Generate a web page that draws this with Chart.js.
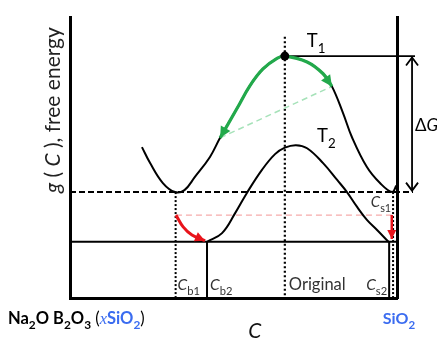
<!DOCTYPE html>
<html><head><meta charset="utf-8">
<script src="https://cdn.jsdelivr.net/npm/chart.js@4/dist/chart.umd.min.js"></script>
<style>html,body{margin:0;padding:0;background:#fff}#wrap{width:437px;height:339px;position:relative}</style>
</head><body><div id="wrap"><canvas id="c"></canvas></div>
<script>
// Composition C (0 = Na2O·B2O3 end, 100 = SiO2 end) and free energy g (arbitrary units)
const t1C = [22, 24.5, 28.4, 32.1, 35, 38.2, 42.8, 45.9, 51.1, 55, 59, 63.3, 65.7, 72.5, 77.4, 80.1, 83.5, 86.2, 90.8, 94.8, 98.5, 99.8];
const t1G = [53.7, 48, 40.9, 37.7, 38.4, 43.1, 50.2, 57, 67.5, 75.5, 81.5, 85.3, 86.1, 84, 79.8, 75.3, 65.8, 57.3, 46.6, 40.9, 37.7, 40];
const t2C = [41.9, 46.5, 50.5, 54.1, 58.7, 62.7, 65.7, 69.1, 72.5, 77.4, 81.7, 84.7, 87.8, 90.8, 93.9, 97.4];
const t2G = [20, 23.1, 30.2, 37.4, 45.6, 51.2, 53.5, 54.4, 53.3, 48, 42, 37.7, 32.4, 27.8, 24.2, 20];
// compositions marked on the C axis
const markNames = ['Cb1', 'Cb2', 'Original', 'Cs2', 'Cs1'];
const markC = [32.3, 41.9, 65.7, 97.6, 98.8];
// free-energy levels: common tangent at T1, common tangent at T2, T1 maximum, intermediate (red dashed)
const levelNames = ['tangentT1', 'tangentT2', 'peakT1', 'intermediate'];
const levelG = [37.7, 20, 86.1, 29.5];
// green arrow segment along T1 (indices into t1C/t1G)
const greenFrom = 7, greenTo = 15;
// red curved arrow (Cb1 -> Cb2) and red drop (Cs1 -> Cs2)
const redC = [32.4, 34.6, 37.3, 41.3];
const redG = [29.5, 25.3, 22.4, 20.4];
const dropC = 98.4;
const dropG = [29.5, 21];
// ΔG dimension arrow and extent of the reference lines beyond the SiO2 edge
const deltaC = 104.6;
const deltaG = [85.6, 38.2];
const lineEndC = [104.9, 105.5]; // dashed level end, T1 peak line end
const originalTopG = 93;

const pts = (cs, gs) => cs.map((c, i) => ({x: c, y: gs[i]}));
const seg = (x1, y1, x2, y2) => [{x: x1, y: y1}, {x: x2, y: y2}];
const peakIdx = t1G.indexOf(Math.max(...t1G));

const base = {type: 'line', pointRadius: 0, fill: false, clip: false, tension: 0};
const curve = {tension: 0.4, cubicInterpolationMode: 'default'};
const datasets = [
  {...base, label: 'peak', data: [{x: t1C[peakIdx], y: t1G[peakIdx]}], showLine: false, pointRadius: 4.5, pointBackgroundColor: '#000', pointBorderWidth: 0},
  {...base, ...curve, label: 'greenArrow', data: pts(t1C.slice(greenFrom, greenTo + 1), t1G.slice(greenFrom, greenTo + 1)), borderColor: '#22a94b', borderWidth: 3.2,
    arrows: [{at: 'start', kind: 'fill', len: 11, half: 5.5}, {at: 'end', kind: 'fill', len: 11, half: 5.5}]},
  {...base, ...curve, label: 'redArrow', data: pts(redC, redG), borderColor: '#e8141b', borderWidth: 3,
    arrows: [{at: 'end', kind: 'fill', len: 10, half: 5}]},
  {...base, label: 'redDrop', data: seg(dropC, dropG[0], dropC, dropG[1]), borderColor: '#e8141b', borderWidth: 2.5,
    arrows: [{at: 'end', kind: 'fill', len: 9, half: 4.5}]},
  {...base, ...curve, label: 'T1', data: pts(t1C, t1G), borderColor: '#000', borderWidth: 2},
  {...base, ...curve, label: 'T2', data: pts(t2C, t2G), borderColor: '#000', borderWidth: 2},
  {...base, label: 'greenDashed', data: seg(t1C[greenFrom], t1G[greenFrom], t1C[greenTo], t1G[greenTo]), borderColor: '#a6e2b9', borderWidth: 1.5, borderDash: [6, 4]},
  {...base, label: 'redDashed', data: seg(redC[0], levelG[3], dropC, levelG[3]), borderColor: '#f6abab', borderWidth: 1.3, borderDash: [6, 4]},
  {...base, label: 'deltaG', data: seg(deltaC, deltaG[0], deltaC, deltaG[1]), borderColor: '#000', borderWidth: 1.8,
    arrows: [{at: 'start', kind: 'open', len: 8, half: 6}, {at: 'end', kind: 'open', len: 8, half: 6}]},
  {...base, label: 'peakLine', data: seg(t1C[peakIdx], levelG[2], lineEndC[1], levelG[2]), borderColor: '#000', borderWidth: 1.8},
  {...base, label: 'tangentT1', data: seg(0, levelG[0], lineEndC[0], levelG[0]), borderColor: '#000', borderWidth: 2, borderDash: [6, 3]},
  {...base, label: 'tangentT2', data: seg(0, levelG[1], 100, levelG[1]), borderColor: '#000', borderWidth: 2},
  {...base, label: 'Cb1', data: seg(markC[0], levelG[0], markC[0], 0), borderColor: '#000', borderWidth: 2, borderDash: [2, 2]},
  {...base, label: 'Cb2', data: seg(markC[1], levelG[1], markC[1], 0), borderColor: '#000', borderWidth: 2},
  {...base, label: 'Original', data: seg(markC[2], originalTopG, markC[2], 0), borderColor: '#000', borderWidth: 2.2, borderDash: [2, 2.5]},
  {...base, label: 'Cs2', data: seg(markC[3], levelG[1], markC[3], 0), borderColor: '#000', borderWidth: 2},
  {...base, label: 'Cs1', data: seg(markC[4], levelG[0], markC[4], 0), borderColor: '#000', borderWidth: 2, borderDash: [2, 2]}
];

const FONT = 'Lato, "Open Sans", sans-serif';
function drawRich(ctx, parts, x, y, size, align) {
  const fontOf = p => {
    const s = p.sub ? size * 0.72 : size;
    return `${p.i ? 'italic ' : ''}${p.b ? 'bold ' : ''}${s}px ${p.serif ? '"Liberation Serif", serif' : FONT}`;
  };
  let w = 0;
  parts.forEach(p => { ctx.font = fontOf(p); w += ctx.measureText(p.t).width; });
  let cx = align === 'right' ? x - w : align === 'center' ? x - w / 2 : x;
  ctx.textAlign = 'left';
  ctx.textBaseline = 'alphabetic';
  parts.forEach(p => {
    ctx.font = fontOf(p);
    ctx.fillStyle = p.c || '#000';
    ctx.fillText(p.t, cx, y + (p.sub ? size * 0.3 : 0));
    cx += ctx.measureText(p.t).width;
  });
}
function drawHead(ctx, px, py, tx, ty, a, color) {
  const ang = Math.atan2(ty - py, tx - px);
  const cs = Math.cos(ang), sn = Math.sin(ang);
  const bx = tx - a.len * cs, by = ty - a.len * sn;
  const l = {x: bx - a.half * sn, y: by + a.half * cs};
  const r = {x: bx + a.half * sn, y: by - a.half * cs};
  ctx.save();
  ctx.setLineDash([]);
  ctx.strokeStyle = color; ctx.fillStyle = color; ctx.lineWidth = 1.8;
  ctx.beginPath();
  ctx.moveTo(l.x, l.y); ctx.lineTo(tx, ty); ctx.lineTo(r.x, r.y);
  if (a.kind === 'fill') { ctx.closePath(); ctx.fill(); } else { ctx.stroke(); }
  ctx.restore();
}
const annot = {
  id: 'annot',
  afterDatasetsDraw(chart) {
    const {ctx, chartArea: ca} = chart;
    const xs = chart.scales.x, ys = chart.scales.y;
    chart.data.datasets.forEach((ds, i) => {
      if (!ds.arrows) return;
      const d = chart.getDatasetMeta(i).data, n = d.length;
      ds.arrows.forEach(a => {
        let tip, prev;
        if (a.at === 'end') {
          tip = d[n - 1];
          prev = (tip.cp1x !== undefined && Math.hypot(tip.cp1x - tip.x, tip.cp1y - tip.y) > 0.5) ? {x: tip.cp1x, y: tip.cp1y} : d[n - 2];
        } else {
          tip = d[0];
          prev = (tip.cp2x !== undefined && Math.hypot(tip.cp2x - tip.x, tip.cp2y - tip.y) > 0.5) ? {x: tip.cp2x, y: tip.cp2y} : d[1];
        }
        drawHead(ctx, prev.x, prev.y, tip.x, tip.y, a, ds.borderColor);
      });
    });
    ctx.save();
    const X = c => xs.getPixelForValue(c), Y = g => ys.getPixelForValue(g);
    const gray = '#333';
    // curve labels
    drawRich(ctx, [{t: 'T'}, {t: '1', sub: true}], X(t1C[peakIdx]) + 22, Y(levelG[2]) - 9, 18.5, 'left');
    drawRich(ctx, [{t: 'T'}, {t: '2', sub: true}], X(t2C[7]) + 21, Y(t2G[7]) - 3, 18.5, 'left');
    drawRich(ctx, [{t: 'Δ'}, {t: 'G', i: true}], X(deltaC) + 3, Y((deltaG[0] + deltaG[1]) / 2) + 7, 17, 'left');
    drawRich(ctx, [{t: 'C', i: true, c: gray}, {t: 's1', sub: true, c: gray}], X(markC[4]) - 2, Y(levelG[0]) + 15, 15, 'right');
    // composition labels along the bottom
    const by = ca.bottom - 8;
    drawRich(ctx, [{t: 'C', i: true, c: gray}, {t: 'b1', sub: true, c: gray}], X(markC[0]) + 2, by, 15.5, 'left');
    drawRich(ctx, [{t: 'C', i: true, c: gray}, {t: 'b2', sub: true, c: gray}], X(markC[1]) + 3, by, 15.5, 'left');
    drawRich(ctx, [{t: 'Original', c: gray}], X(markC[2]) + 4, by, 16.5, 'left');
    drawRich(ctx, [{t: 'C', i: true, c: gray}, {t: 's2', sub: true, c: gray}], X(markC[3]) - 2, by, 15.5, 'right');
    // end-member labels and axis titles
    const blue = '#3b6cf0';
    drawRich(ctx, [{t: 'Na', b: true}, {t: '2', sub: true, b: true}, {t: 'O B', b: true}, {t: '2', sub: true, b: true}, {t: 'O', b: true}, {t: '3', sub: true, b: true},
      {t: ' ('}, {t: 'x', i: true, serif: true, c: blue}, {t: 'SiO', b: true, c: blue}, {t: '2', sub: true, b: true, c: blue}, {t: ')'}], 8, ca.bottom + 26, 16.5, 'left');
    drawRich(ctx, [{t: 'SiO', b: true, c: blue}, {t: '2', sub: true, b: true, c: blue}], X(100) + 2, ca.bottom + 26, 16, 'center');
    drawRich(ctx, [{t: 'C', i: true, c: '#111'}], X(56.5), ca.bottom + 40, 21, 'center');
    ctx.translate(ca.left - 10, Y(levelG[0]) + 1);
    ctx.rotate(-Math.PI / 2);
    drawRich(ctx, [{t: 'g', i: true, c: '#222'}, {t: ' ( ', c: '#222'}, {t: 'C', i: true, c: '#222'}, {t: ' ), free energy', c: '#222'}], 0, 0, 21, 'left');
    ctx.restore();
  }
};

new Chart(document.getElementById('c'), {
  type: 'line',
  data: {datasets},
  options: {
    responsive: true, maintainAspectRatio: false, animation: false, devicePixelRatio: 1,
    layout: {padding: {top: 17, left: 0, right: 0, bottom: 0}},
    plugins: {legend: {display: false}, tooltip: {enabled: false}},
    events: [],
    scales: {
      x: {type: 'linear', min: 0, max: 100, grid: {display: false}, ticks: {display: false},
        border: {display: true, color: '#000', width: 3}, afterFit: s => { s.height = 41; }},
      y: {type: 'linear', position: 'left', min: 0, max: 100, grid: {display: false}, ticks: {display: false},
        border: {display: true, color: '#000', width: 3}, afterFit: s => { s.width = 70; }},
      ySiO2: {type: 'linear', position: 'right', min: 0, max: 100, grid: {display: false}, ticks: {display: false},
        border: {display: true, color: '#000', width: 3}, afterFit: s => { s.width = 40; }}
    }
  },
  plugins: [annot]
});
</script></body></html>
